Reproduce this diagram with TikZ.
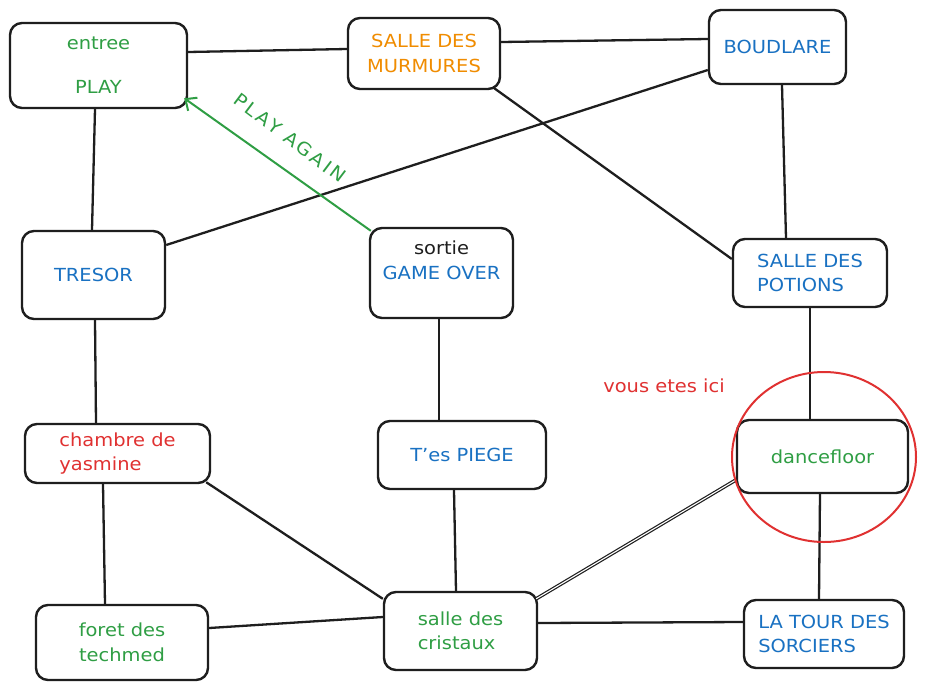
\documentclass[tikz,border=0pt]{standalone}
\usepackage{fontspec}
\setmainfont[FakeStretch=1.08]{DejaVu Sans}
\newfontfamily\spacedfont[FakeStretch=1.08,LetterSpace=14]{DejaVu Sans}
\usetikzlibrary{arrows.meta}
\definecolor{xgreen}{HTML}{2F9E44}
\definecolor{xorange}{HTML}{F08C00}
\definecolor{xblue}{HTML}{1971C2}
\definecolor{xred}{HTML}{E03131}
\definecolor{xink}{HTML}{1E1E1E}
\begin{document}
\begin{tikzpicture}[x=1pt,y=-1pt,
  room/.style={draw=xink, fill=white, line width=2.4pt, rounded corners=12pt,
    align=center, font=\fontsize{18}{24.5}\selectfont, inner sep=0pt},
  roomleft/.style={room, align=left},
  link/.style={draw=xink, line width=2.3pt},
  twin/.style={draw=xink, line width=1.2pt, double=white, double distance=1.1pt},
  again/.style={draw=xgreen, line width=2pt, -{Straight Barb[length=9pt,width=16pt,line width=2pt]}},
  note/.style={font=\fontsize{18}{22}\selectfont, inner sep=0pt},
]
\useasboundingbox (0,0) rectangle (927,689);
\fill[white] (0,0) rectangle (927,689);

% rooms
\node[room, minimum width=177pt, minimum height=85pt, text=xgreen] (entree) at (98.5,65.5) {entree\\[19.5pt]PLAY};
\node[room, minimum width=152pt, minimum height=71pt, text=xorange] (murm) at (424,53.5) {SALLE DES\\MURMURES};
\node[room, minimum width=137pt, minimum height=74pt, text=xblue] (boud) at (777.5,47) {BOUDLARE};
\node[room, minimum width=143pt, minimum height=88pt, text=xblue] (tresor) at (93.5,275) {TRESOR};
\node[room, minimum width=143pt, minimum height=90pt, text=xblue] (go) at (441.5,273) {{\color{xink}sortie}\\GAME OVER\rule[-26pt]{0pt}{0pt}};
\node[roomleft, minimum width=154pt, minimum height=68pt, text=xblue] (potions) at (810,273) {SALLE DES\\POTIONS};
\node[roomleft, minimum width=185pt, minimum height=59pt, text=xred] (chambre) at (117.5,453.5) {chambre de\\yasmine};
\node[room, minimum width=168pt, minimum height=68pt, text=xblue] (piege) at (462,455) {T'es PIEGE};
\node[room, minimum width=171pt, minimum height=73pt, text=xgreen] (dance) at (822.5,456.5) {dancefloor};
\node[room, minimum width=172pt, minimum height=75pt, text=xgreen] (foret) at (122,642.5) {foret des\\techmed};
\node[roomleft, minimum width=153pt, minimum height=78pt, text=xgreen] (crist) at (460.5,631) {salle des\\cristaux};
\node[roomleft, minimum width=160pt, minimum height=68pt, text=xblue] (tour) at (824,634) {LA TOUR DES\\SORCIERS};

% connections
\draw[link] ([yshift=13.5pt]entree.east) -- ([yshift=4.5pt]murm.west);
\draw[link] ([yshift=11.5pt]murm.east) -- ([yshift=8pt]boud.west);
\draw[link] ([xshift=-7pt,yshift=2pt]murm.south east) -- ([yshift=14pt]potions.west);
\draw[link] ([yshift=-23pt]boud.west) -- ([yshift=30pt]tresor.east);
\draw[link] ([xshift=4.5pt]boud.south) -- ([xshift=-24pt]potions.north);
\draw[link] ([xshift=-3.5pt]entree.south) -- ([xshift=-1.5pt]tresor.north);
\draw[link] ([xshift=1.5pt]tresor.south) -- ([xshift=-21.5pt]chambre.north);
\draw[link] ([xshift=-2.5pt]go.south) -- ([xshift=-23pt]piege.north);
\draw[link] (potions.south) -- ([xshift=-12.5pt]dance.north);
\draw[link] ([xshift=-14.5pt]chambre.south) -- ([xshift=-17pt]foret.north);
\draw[link] ([xshift=-5pt,yshift=2pt]chambre.south east) -- ([yshift=-8pt]crist.north west);
\draw[link] ([xshift=-8pt]piege.south) -- ([xshift=-4.5pt]crist.north);
\draw[link] ([yshift=14.5pt]foret.east) -- ([yshift=14pt]crist.west);
\draw[twin] ([xshift=-2pt,yshift=-8pt]crist.north east) -- ([yshift=-23.5pt]dance.west);
\draw[link] ([yshift=8pt]crist.east) -- ([yshift=12pt]tour.west);
\draw[link] ([xshift=-2.5pt]dance.south) -- ([xshift=-5pt]tour.north);

% play again arrow
\draw[again] ([xshift=2pt,yshift=-4pt]go.north west) -- ([xshift=-4pt,yshift=11pt]entree.south east);
\node[note, text=xgreen, rotate=-37, font=\spacedfont\fontsize{18}{22}\selectfont] (againlbl) at (290,138) {PLAY AGAIN};

% you are here
\draw[xred, line width=2pt] (824,457) ellipse [x radius=92pt, y radius=85pt];
\node[note, text=xred] (here) at (664,386) {vous etes ici};
\end{tikzpicture}
\end{document}
